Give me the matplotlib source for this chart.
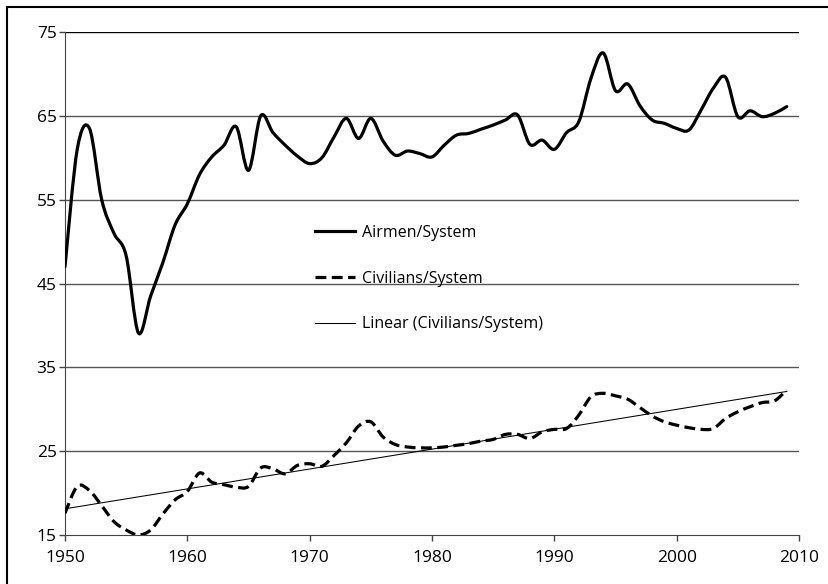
import numpy as np
import matplotlib
matplotlib.use("Agg")
import matplotlib.pyplot as plt
from matplotlib.path import Path
from matplotlib.patches import PathPatch
from matplotlib.lines import Line2D

plt.rcParams['font.family'] = ['Open Sans', 'DejaVu Sans']

years = np.arange(1950, 2010)
airmen = [47.0, 61.0, 63.5, 55.0, 51.0, 48.3, 39.1, 43.5, 47.5, 52.0,
          54.5, 58.0, 60.1, 61.5, 63.7, 58.5, 65.0, 63.0, 61.5, 60.2,
          59.3, 60.0, 62.5, 64.7, 62.3, 64.7, 62.0, 60.3, 60.8, 60.5,
          60.1, 61.5, 62.7, 62.9, 63.4, 63.9, 64.5, 65.1, 61.6, 62.1,
          61.0, 63.0, 64.3, 69.5, 72.5, 68.0, 68.8, 66.2, 64.5, 64.1,
          63.5, 63.3, 65.7, 68.3, 69.6, 64.9, 65.6, 64.9, 65.3, 66.1]
civilians = [17.6, 20.8, 20.3, 18.5, 16.6, 15.6, 15.0, 15.6, 17.5, 19.2,
             20.2, 22.4, 21.3, 21.0, 20.7, 20.8, 23.0, 22.9, 22.3, 23.3,
             23.5, 23.2, 24.5, 26.0, 28.0, 28.5, 26.7, 25.8, 25.5, 25.4,
             25.4, 25.5, 25.7, 25.9, 26.2, 26.4, 27.0, 27.0, 26.5, 27.3,
             27.6, 27.7, 29.3, 31.5, 31.9, 31.6, 31.2, 30.2, 29.2, 28.5,
             28.1, 27.8, 27.6, 27.7, 28.9, 29.7, 30.3, 30.8, 31.0, 32.3]
y_ticks = [15, 25, 35, 45, 55, 65, 75]
x_ticks = [1950, 1960, 1970, 1980, 1990, 2000, 2010]


def smooth_path(x, y):
    # excel style smoothed line: catmull-rom converted to bezier segments
    x = np.asarray(x, float)
    y = np.asarray(y, float)
    px = np.concatenate([[x[0]], x, [x[-1]]])
    py = np.concatenate([[y[0]], y, [y[-1]]])
    verts = [(x[0], y[0])]
    codes = [Path.MOVETO]
    for i in range(1, len(px) - 2):
        c1 = (px[i] + (px[i + 1] - px[i - 1]) / 6, py[i] + (py[i + 1] - py[i - 1]) / 6)
        c2 = (px[i + 1] - (px[i + 2] - px[i]) / 6, py[i + 1] - (py[i + 2] - py[i]) / 6)
        verts += [c1, c2, (px[i + 1], py[i + 1])]
        codes += [Path.CURVE4] * 3
    return Path(verts, codes)


fig = plt.figure(figsize=(8.29, 5.84), dpi=100)
ax = fig.add_axes([0.0784, 0.0839, 0.8854, 0.8613])

for v in y_ticks[1:]:
    ax.axhline(v, color='#555555' if v < 75 else 'black', lw=1.0, zorder=1)

dash = (3.4, 1.7)
ax.add_patch(PathPatch(smooth_path(years, airmen), fill=False, lw=2.3,
                       color='black', capstyle='round', joinstyle='round', zorder=3))
ax.add_patch(PathPatch(smooth_path(years, civilians), fill=False, lw=2.3,
                       color='black', linestyle=(0, dash), zorder=3))

k, b = np.polyfit(years, civilians, 1)
ax.plot(years[[0, -1]], k * years[[0, -1]] + b, color='black', lw=0.75, zorder=2)

ax.set_xlim(1950, 2010)
ax.set_ylim(15, 75)
ax.set_xticks(x_ticks)
ax.set_xticklabels([str(t) for t in x_ticks], fontsize=12.5)
ax.set_yticks(y_ticks)
ax.set_yticklabels([str(t) for t in y_ticks], fontsize=12.5)
for s in ['top', 'right']:
    ax.spines[s].set_visible(False)
ax.spines['left'].set_color('#444444')
ax.spines['bottom'].set_color('#444444')
ax.tick_params(length=4, width=1, color='#444444', pad=2)
ax.tick_params(axis='x', pad=7)

handles = [Line2D([], [], color='black', lw=2.3),
           Line2D([], [], color='black', lw=2.3, linestyle=(0, dash)),
           Line2D([], [], color='black', lw=0.75)]
labels = ['Airmen/System', 'Civilians/System', 'Linear (Civilians/System)']
ax.legend(handles, labels, loc='upper left', bbox_to_anchor=(315 / 829, 1 - 225 / 584),
          bbox_transform=fig.transFigure, frameon=False, fontsize=11.5,
          handlelength=2.5, handletextpad=0.45, labelspacing=1.85,
          borderpad=0, borderaxespad=0)

# outer frame (left and top edges visible)
fig.add_artist(Line2D([7 / 829, 7 / 829], [0, 1 - 7 / 584], color='black', lw=1.5,
                      transform=fig.transFigure))
fig.add_artist(Line2D([7 / 829, 1], [1 - 7 / 584, 1 - 7 / 584], color='black', lw=1.5,
                      transform=fig.transFigure))

fig.savefig('out.png', dpi=100)
